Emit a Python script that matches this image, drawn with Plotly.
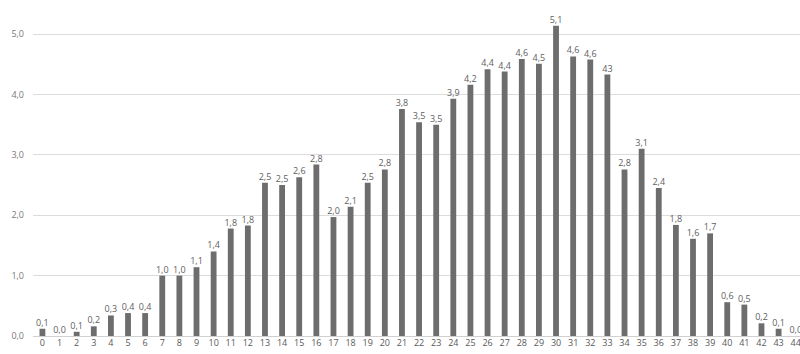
import plotly.graph_objects as go

categories = [str(i) for i in range(45)]
values = [0.12, 0.0, 0.07, 0.16, 0.34, 0.38, 0.38, 1.0, 1.0, 1.14, 1.4,
          1.78, 1.83, 2.54, 2.5, 2.63, 2.84, 1.97, 2.14, 2.54, 2.76,
          3.76, 3.54, 3.5, 3.93, 4.16, 4.42, 4.38, 4.59, 4.51, 5.14,
          4.63, 4.58, 4.33, 2.76, 3.1, 2.45, 1.84, 1.61, 1.7, 0.56,
          0.52, 0.21, 0.12, 0.0]
labels = ["0,1", "0,0", "0,1", "0,2", "0,3", "0,4", "0,4", "1,0", "1,0", "1,1", "1,4",
          "1,8", "1,8", "2,5", "2,5", "2,6", "2,8", "2,0", "2,1", "2,5", "2,8",
          "3,8", "3,5", "3,5", "3,9", "4,2", "4,4", "4,4", "4,6", "4,5", "5,1",
          "4,6", "4,6", "43", "2,8", "3,1", "2,4", "1,8", "1,6", "1,7", "0,6",
          "0,5", "0,2", "0,1", "0,0"]
y_ticks = [0, 1, 2, 3, 4, 5]
y_tick_text = ["0,0", "1,0", "2,0", "3,0", "4,0", "5,0"]

fig = go.Figure(go.Bar(
    x=list(range(45)), y=values, text=labels, textposition="outside",
    constraintext="none",
    textfont=dict(size=9, color="#606060", family="Open Sans"),
    marker=dict(color="#6d6d6d", line=dict(width=0)),
    width=0.34, cliponaxis=False,
))

fig.update_layout(
    width=800, height=354,
    margin=dict(l=33, r=0, t=10, b=18),
    paper_bgcolor="white", plot_bgcolor="white",
    showlegend=False, uniformtext=dict(mode=False),
    font=dict(family="Open Sans", size=9, color="#595959"),
    xaxis=dict(range=[-0.55, 44.25], tickmode="array", tickvals=list(range(45)),
               ticktext=categories, showgrid=False, zeroline=False,
               showline=False, ticks="", ticklabeloverflow="allow",
               tickfont=dict(size=9, color="#595959")),
    yaxis=dict(range=[0, 5.4], tickmode="array", tickvals=y_ticks,
               ticktext=y_tick_text, showgrid=True, gridcolor="#dcdcdc",
               gridwidth=1, zeroline=True, zerolinecolor="#d0d0d0",
               zerolinewidth=1, ticks="", ticklabelstandoff=8,
               tickfont=dict(size=9, color="#7a7a7a")),
)

fig.write_html("out.html")
